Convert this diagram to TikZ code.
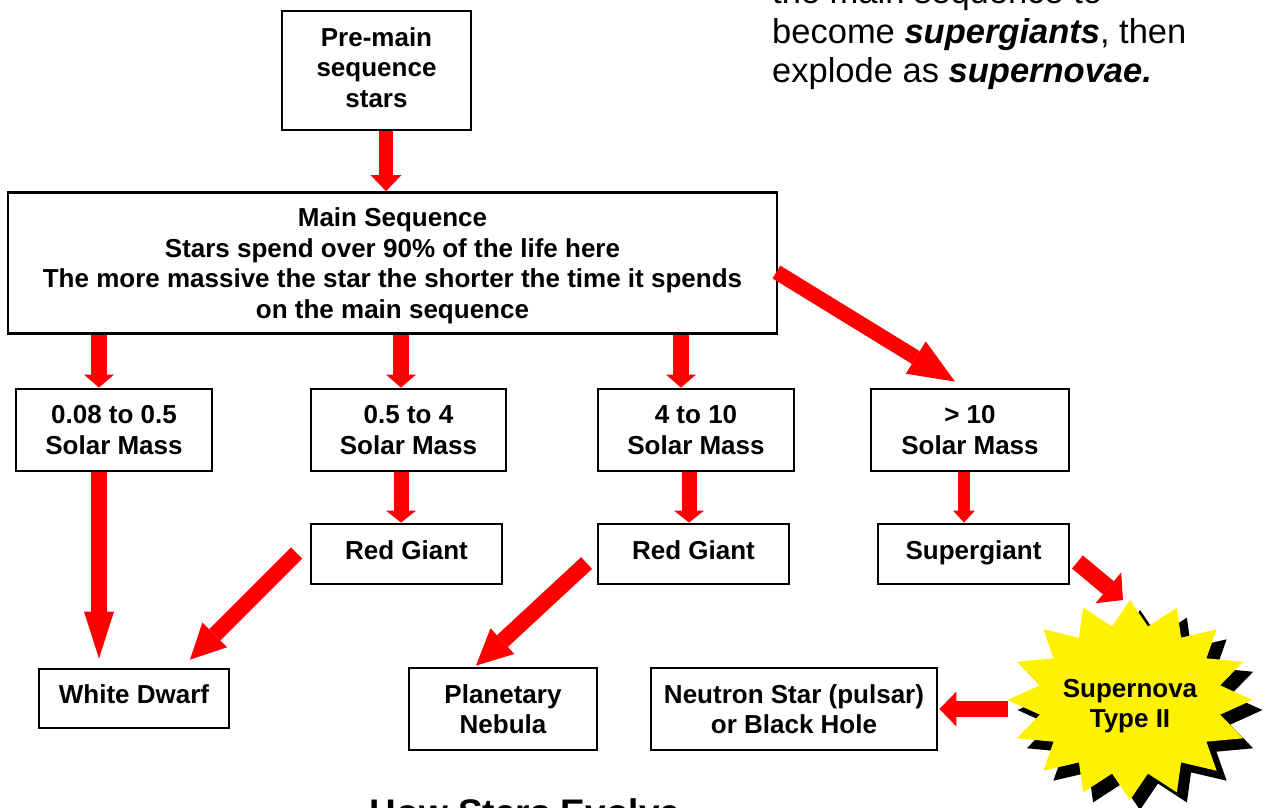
\documentclass[tikz,border=0pt]{standalone}
\usepackage{fontspec}
\setmainfont{Liberation Sans}
\usetikzlibrary{arrows.meta,calc}
\begin{document}
\begin{tikzpicture}[x=1pt,y=-1pt,
  boxfont/.style={font=\bfseries\fontsize{26}{30.5}\selectfont},
  box/.style={draw=black, line width=2.8pt, fill=white, align=center, inner sep=0pt, boxfont},
  one/.style={text height=19pt, text depth=8.5pt},
  redarrow/.style n args={3}{draw=red, line width=#1pt, -{Triangle[width=#2pt,length=#3pt,line width=0pt]}},
  bigtext/.style={anchor=base west, inner sep=0pt, font=\fontsize{34.5}{39}\selectfont}
]
\useasboundingbox (0,0) rectangle (1272,807);
\clip (0,0) rectangle (1272,807);
\fill[white] (0,0) rectangle (1272,807);

% boxes
\node[box, minimum width=189pt, minimum height=119pt] (pre) at (376.5,70.5) {Pre-main\\sequence\\stars\rule[-6pt]{0pt}{6pt}};
\node[box, minimum width=769pt, minimum height=141pt] (main) at (392.5,263) {\rule{0pt}{24pt}Main Sequence\\Stars spend over 90\% of the life here\\The more massive the star the shorter the time it spends\\on the main sequence};
\node[box, minimum width=196pt, minimum height=82pt] (m1) at (114,430) {0.08 to 0.5\\Solar Mass};
\node[box, minimum width=195pt, minimum height=82pt] (m2) at (408.5,430) {0.5 to 4\\Solar Mass};
\node[box, minimum width=196pt, minimum height=82pt] (m3) at (696,430) {4 to 10\\Solar Mass};
\node[box, minimum width=198pt, minimum height=82pt] (m4) at (970,430) {> 10\\Solar Mass};
\node[box, one, minimum width=191pt, minimum height=60pt] (rg1) at (406.5,554) {Red Giant};
\node[box, one, minimum width=191pt, minimum height=60pt] (rg2) at (693.5,554) {Red Giant};
\node[box, one, minimum width=191pt, minimum height=60pt] (sg) at (973.5,554) {Supergiant};
\node[box, one, minimum width=190pt, minimum height=59pt] (wd) at (134,698.5) {White Dwarf};
\node[box, minimum width=188pt, minimum height=82pt] (pn) at (503,709) {Planetary\\Nebula};
\node[box, minimum width=286pt, minimum height=82pt] (ns) at (794,709) {Neutron Star (pulsar)\\or Black Hole};

% starburst
\fill[black, shift={(1140,710)}] (90:122.5pt and 100pt)
  \foreach \k [evaluate=\k as \rx using {ifthenelse(mod(\k,2)==0,122.5,91.9)},
               evaluate=\k as \ry using {ifthenelse(mod(\k,2)==0,100,75)}] in {1,...,31}
  { -- ({90+\k*11.25}:\rx pt and \ry pt) } -- cycle;
\fill[yellow, shift={(1130,700)}] (90:122.5pt and 100pt)
  \foreach \k [evaluate=\k as \rx using {ifthenelse(mod(\k,2)==0,122.5,91.9)},
               evaluate=\k as \ry using {ifthenelse(mod(\k,2)==0,100,75)}] in {1,...,31}
  { -- ({90+\k*11.25}:\rx pt and \ry pt) } -- cycle;
\node[boxfont, align=center, inner sep=0pt] (sn) at (1130,706) {Supernova\\Type II};

% arrows
\path ($(pre.south)+(9.5,0)$) coordinate (c0);
\draw[redarrow={14}{31}{16}] (c0) -- (c0 |- main.north);
\path ($(m1.north)+(-15,0)$) coordinate (c1);
\draw[redarrow={15.5}{30}{13}] (c1 |- main.south) -- (c1);
\path ($(m2.north)+(-7.5,0)$) coordinate (c2);
\draw[redarrow={15.5}{30}{13}] (c2 |- main.south) -- (c2);
\path ($(m3.north)+(-15,0)$) coordinate (c3);
\draw[redarrow={15.5}{30}{13}] (c3 |- main.south) -- (c3);
\draw[redarrow={15}{38}{46}] ($(main.east)+(-2,9)$) -- ($(m4.north)+(-15,-6)$);
\path ($(m1.south)+(-15,0)$) coordinate (c5);
\draw[redarrow={16}{30}{47}] (c5) -- ($(c5 |- wd.north)+(0,-9)$);
\path ($(m2.south)+(-7.5,0)$) coordinate (c6);
\draw[redarrow={15}{30}{12}] (c6) -- (c6 |- rg1.north);
\path ($(m3.south)+(-7,0)$) coordinate (c7);
\draw[redarrow={15}{30}{12}] (c7) -- (c7 |- rg2.north);
\path ($(m4.south)+(-6,0)$) coordinate (c8);
\draw[redarrow={12}{22}{12}] (c8) -- (c8 |- sg.north);
\draw[redarrow={16}{35}{35}] ($(rg1.west)+(-13,-1)$) -- ($(wd.north)+(56,-8)$);
\draw[redarrow={16}{35}{36}] ($(rg2.west)+(-10,9)$) -- ($(pn.north)+(-27,-1)$);
\draw[redarrow={17}{40}{19}] ($(sg.east)+(7,8)$) -- ($(sn)+(-7,-106)$);
\draw[redarrow={16}{35}{17}] ($(sn)+(-122,3)$) -- ($(ns.east)+(1,0)$);

% texts
\node[bigtext] (t1) at (772,3) {the main sequence to};
\node[bigtext] (t2) at (772,43) {become \textbf{\textit{supergiants}}, then};
\node[bigtext] (t3) at (772,82) {explode as \textbf{\textit{supernovae.}}};
\node[anchor=base, inner sep=0pt, font=\bfseries\fontsize{37}{42}\selectfont] (title) at (525,825) {How Stars Evolve};
\end{tikzpicture}
\end{document}
